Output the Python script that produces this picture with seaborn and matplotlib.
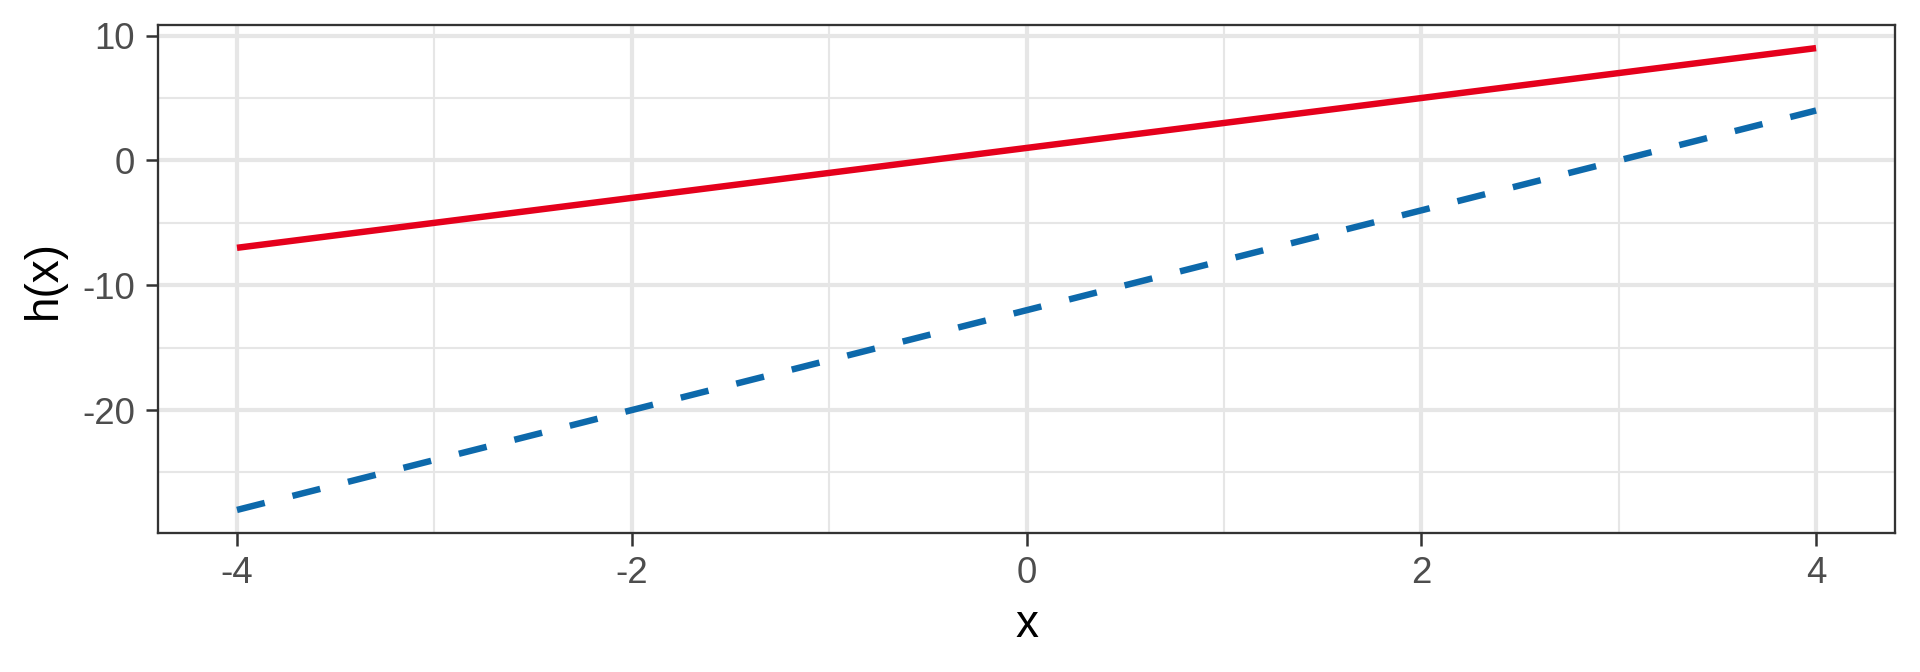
import numpy as np
import pandas as pd
import matplotlib
matplotlib.use("Agg")
import matplotlib.pyplot as plt
import seaborn as sns
from matplotlib.ticker import MultipleLocator

# values
x_vals = [-4, -3, -2, -1, 0, 1, 2, 3, 4]
h_solid = [-7, -5, -3, -1, 1, 3, 5, 7, 9]
h_dashed = [-28, -24, -20, -16, -12, -8, -4, 0, 4]
series_names = ["solid", "dashed"]
x_ticks = [-4, -2, 0, 2, 4]
y_ticks = [-20, -10, 0, 10]

df = pd.DataFrame({
    "x": x_vals * 2,
    "h": h_solid + h_dashed,
    "series": [series_names[0]] * len(x_vals) + [series_names[1]] * len(x_vals),
})

sns.set_style("white")
plt.rcParams['font.family'] = ['Liberation Sans', 'DejaVu Sans']
plt.rcParams['axes.unicode_minus'] = False

fig = plt.figure(figsize=(6.4, 2.24), dpi=300)
ax = fig.add_axes([0.0823, 0.2068, 0.9047, 0.756])

sns.lineplot(data=df, x="x", y="h", hue="series", style="series",
             palette={"solid": "#E5001C", "dashed": "#0D69AB"},
             dashes={"solid": "", "dashed": (4.43, 4.43)},
             legend=False, ax=ax, zorder=3)
# seaborn sets its own width, so fix it on the drawn lines
for ln in ax.lines:
    ln.set_linewidth(1.55)
    ln.set_solid_capstyle("butt")
    ln.set_dash_capstyle("butt")

ax.set_xlim(-4.4, 4.4)
ax.set_ylim(-29.85, 10.85)
ax.set_xticks(x_ticks)
ax.set_yticks(y_ticks)
ax.xaxis.set_minor_locator(MultipleLocator(1))
ax.yaxis.set_minor_locator(MultipleLocator(5))

ax.grid(which="major", color="#E6E6E6", linewidth=1.0)
ax.grid(which="minor", color="#E6E6E6", linewidth=0.5)
ax.set_axisbelow(True)

for s in ax.spines.values():
    s.set_color("#333333")
    s.set_linewidth(0.55)

ax.tick_params(axis="both", which="major", length=3, width=0.6, color="#333333",
               labelsize=8.8, labelcolor="#4D4D4D", pad=2.5,
               left=True, bottom=True)
ax.tick_params(axis="both", which="minor", length=0)

ax.set_xlabel("x", fontsize=11, color="black", labelpad=3)
ax.set_ylabel("h(x)", fontsize=11, color="black", labelpad=4)

fig.savefig("out.png", dpi=300, facecolor="white")
